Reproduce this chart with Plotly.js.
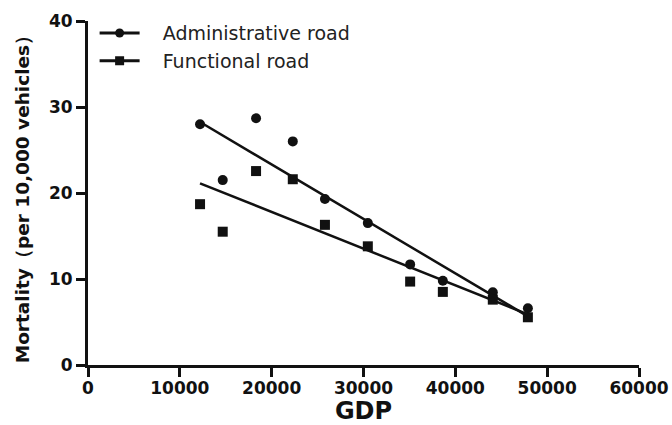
<!DOCTYPE html>
<html>
<head>
<meta charset="utf-8">
<script src="https://cdn.plot.ly/plotly-3.0.1.min.js"></script>
<style>html,body{margin:0;padding:0;background:#fff;}#chart{width:672px;height:425px;}</style>
</head>
<body>
<div id="chart"></div>
<script>
// GDP values (x) for each observation
const gdp = [12200, 14670, 18300, 22300, 25800, 30470, 35080, 38640, 44080, 47900];
// Mortality (per 10,000 vehicles)
const adminRoad = [28.0, 21.5, 28.7, 26.0, 19.3, 16.5, 11.7, 9.8, 8.45, 6.6];
const functionalRoad = [18.7, 15.5, 22.55, 21.6, 16.3, 13.8, 9.7, 8.5, 7.6, 5.55];
const seriesNames = ["Administrative road", "Functional road"];
const xTicks = [0, 10000, 20000, 30000, 40000, 50000, 60000];
const yTicks = [0, 10, 20, 30, 40];
const xTitle = 'GDP';
const yTitle = 'Mortality（per 10,000 vehicles）';

function linFit(xs, ys) {
  const n = xs.length;
  const mx = xs.reduce((a, b) => a + b, 0) / n;
  const my = ys.reduce((a, b) => a + b, 0) / n;
  let sxy = 0, sxx = 0;
  for (let i = 0; i < n; i++) { sxy += (xs[i] - mx) * (ys[i] - my); sxx += (xs[i] - mx) ** 2; }
  const b = sxy / sxx, a = my - b * mx;
  const x0 = Math.min(...xs), x1 = Math.max(...xs);
  return { x: [x0, x1], y: [a + b * x0, a + b * x1] };
}

const fitA = linFit(gdp, adminRoad);
const fitF = linFit(gdp, functionalRoad);
const ink = '#111';
const pad = '\u00a0\u00a0\u00a0';

const traces = [
  { x: gdp, y: adminRoad, mode: 'markers', type: 'scatter', showlegend: false, marker: { symbol: 'circle', color: ink, size: 10 } },
  { x: gdp, y: functionalRoad, mode: 'markers', type: 'scatter', showlegend: false, marker: { symbol: 'square', color: ink, size: 10 } },
  { x: fitA.x, y: fitA.y, mode: 'lines', type: 'scatter', showlegend: false, line: { color: ink, width: 2.5 } },
  { x: fitF.x, y: fitF.y, mode: 'lines', type: 'scatter', showlegend: false, line: { color: ink, width: 2.5 } },
  { x: [null], y: [null], mode: 'lines+markers', type: 'scatter', name: pad + seriesNames[0], line: { color: ink, width: 3 }, marker: { symbol: 'circle', color: ink, size: 9 } },
  { x: [null], y: [null], mode: 'lines+markers', type: 'scatter', name: pad + seriesNames[1], line: { color: ink, width: 3 }, marker: { symbol: 'square', color: ink, size: 9 } }
];

const tickFont = { family: 'DejaVu Sans', size: 17, color: ink, weight: 'bold' };
const layout = {
  width: 672, height: 425,
  margin: { l: 88, r: 33, t: 21, b: 60 },
  paper_bgcolor: '#fff', plot_bgcolor: '#fff',
  showlegend: true,
  legend: {
    x: 0.012, y: 1.02, xanchor: 'left', yanchor: 'top',
    bgcolor: 'rgba(0,0,0,0)', borderwidth: 0,
    font: { family: 'DejaVu Sans', size: 19, color: '#222' },
    itemwidth: 40, tracegroupgap: 0
  },
  xaxis: {
    range: [0, 60000], tickvals: xTicks, ticktext: xTicks.map(String),
    showgrid: false, zeroline: false, showline: true, linecolor: ink, linewidth: 3,
    ticks: 'outside', ticklen: 9, tickwidth: 3, tickcolor: ink,
    tickfont: tickFont, ticklabelstandoff: -3, automargin: false,
    title: { text: xTitle, font: { family: 'DejaVu Sans', size: 24, color: ink, weight: 'bold' }, standoff: 8 }
  },
  yaxis: {
    range: [0, 40], tickvals: yTicks, ticktext: yTicks.map(String),
    showgrid: false, zeroline: false, showline: true, linecolor: ink, linewidth: 3,
    ticks: 'outside', ticklen: 9, tickwidth: 3, tickcolor: ink,
    tickfont: tickFont, automargin: false
  },
  annotations: [{
    text: yTitle, xref: 'paper', yref: 'paper', x: -0.12, y: 0.496,
    xanchor: 'center', yanchor: 'middle', textangle: -90, showarrow: false,
    font: { family: 'DejaVu Sans', size: 18.5, color: ink, weight: 'bold' }
  }]
};

Plotly.newPlot('chart', traces, layout, { staticPlot: true, displayModeBar: false });
</script>
</body>
</html>
